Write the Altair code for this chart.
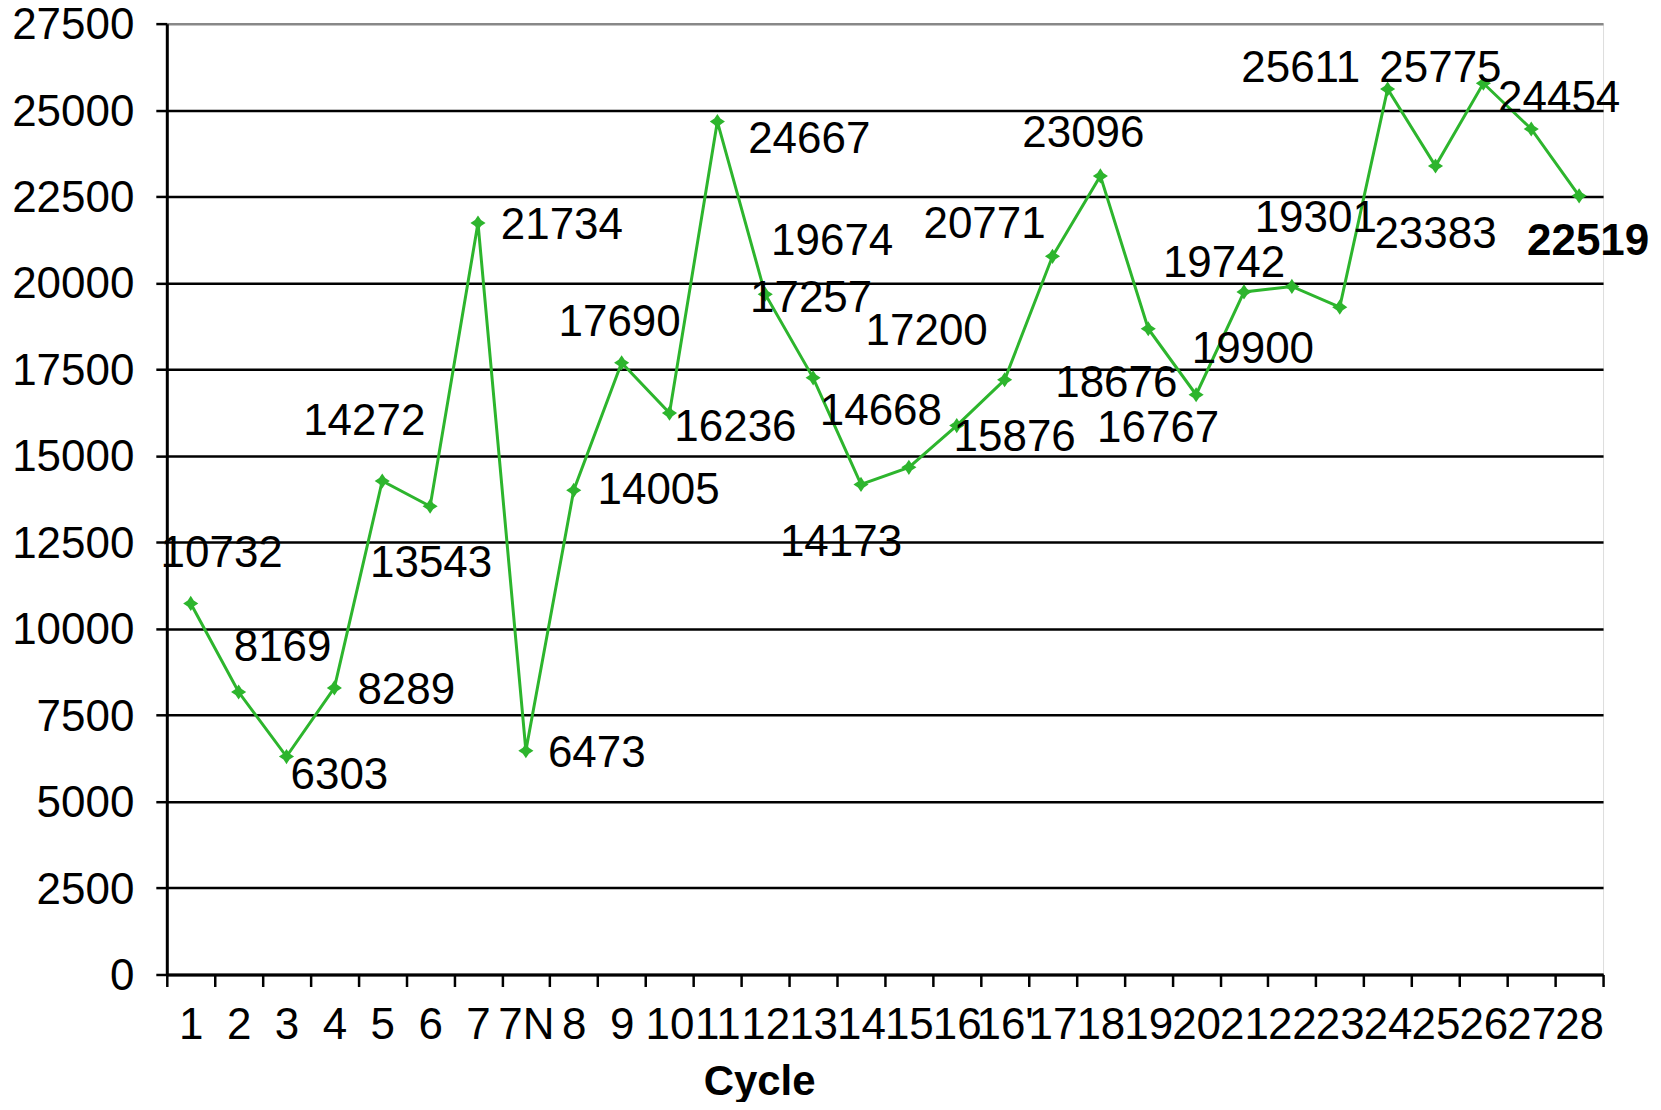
import altair as alt
import pandas as pd

cycles = ["1", "2", "3", "4", "5", "6", "7", "7N", "8", "9", "10", "11", "12", "13", "14",
          "15", "16", "16'", "17", "18", "19", "20", "21", "22", "23", "24", "25", "26", "27", "28"]
values = [10732, 8169, 6303, 8289, 14272, 13543, 21734, 6473, 14005, 17690, 16236, 24667,
          19674, 17257, 14173, 14668, 15876, 17200, 20771, 23096, 18676, 16767, 19742, 19900,
          19301, 25611, 23383, 25775, 24454, 22519]
bold_label = ["28"]
y_ticks = list(range(0, 27501, 2500))

# label placement offsets (pixels) relative to each point
label_dx = [31, 44, 53, 72, -18, 1, 84, 71, 85, -2, 66, 92, 67, -2, -20, -28, 58, -78, -68,
            -17, -32, -38, -20, -39, -24, -87, 0, -43, 28, 9]
label_dy = [-51, -46, 17, 1, -61, 56, 1, 1, -1, -42, 13, 16, -54, -81, 57, -57, 10, -50, -33,
            -44, 53, 32, -30, 62, -90, -22, 67, -16, -32, 44]

W = 1438
H = 952
Y_MAX = 27500
BAND = W / len(cycles)
TEXT_SHIFT = 2

df = pd.DataFrame({
    "cycle": cycles,
    "value": values,
    "dx": label_dx,
    "dy": label_dy,
    "idx": list(range(len(cycles))),
    "bold": [c in bold_label for c in cycles],
})

FONT = "Liberation Sans"
FS = 44
GREEN = "#2DB52D"

x_axis = alt.Axis(
    tickBand="extent",
    labelAngle=0,
    labelOverlap=False,
    labelBound=False,
    labelFlush=False,
    labelFont=FONT,
    labelFontSize=FS,
    labelColor="black",
    labelPadding=17,
    tickSize=12,
    tickWidth=2.5,
    tickColor="black",
    domainColor="black",
    domainWidth=3,
    title="Cycle",
    titleFont=FONT,
    titleFontSize=42,
    titleFontWeight="bold",
    titleColor="black",
    titleX=593,
    titleY=120,
    titleAlign="center",
    titleBaseline="alphabetic",
)

x_enc = alt.X(
    "cycle:N",
    sort=cycles,
    scale=alt.Scale(paddingInner=0, paddingOuter=0),
    axis=x_axis,
)

y_scale = alt.Scale(domain=[0, Y_MAX], nice=False, zero=True)

y_enc = alt.Y(
    "value:Q",
    scale=y_scale,
    axis=alt.Axis(
        values=y_ticks,
        format="d",
        labelFont=FONT,
        labelFontSize=FS,
        labelColor="black",
        labelPadding=22,
        labelOffset=2,
        tickSize=11,
        tickWidth=2.5,
        tickColor="black",
        domainColor="black",
        domainWidth=3,
        grid=True,
        gridColor={"expr": "datum.value == 27500 ? '#888888' : 'black'"},
        gridWidth=2.5,
        title=None,
    ),
)

base = alt.Chart(df)

line = base.mark_line(color=GREEN, strokeWidth=3).encode(
    x=x_enc, y=y_enc, order=alt.Order("idx:Q")
)

star = "M0,-1L0.4,-0.4L1,0L0.4,0.4L0,1L-0.4,0.4L-1,0L-0.4,-0.4Z"
points = base.mark_point(shape=star, filled=True, color=GREEN, size=230, opacity=1).encode(
    x=x_enc, y=y_enc
)


def label_layer(bold):
    return base.transform_filter(
        "datum.bold" if bold else "!datum.bold"
    ).transform_calculate(
        xoff=f"datum.dx + {BAND / 2}",
        ylab=f"datum.value - (datum.dy + {TEXT_SHIFT}) * {Y_MAX} / {H}",
    ).mark_text(
        font=FONT, fontSize=FS, fontWeight="bold" if bold else "normal",
        color="black", align="center", baseline="middle"
    ).encode(
        x=x_enc,
        y=alt.Y("ylab:Q", scale=y_scale),
        xOffset=alt.XOffset("xoff:Q", scale=None),
        text=alt.Text("value:Q", format="d"),
    )


chart = alt.layer(line, points, label_layer(False), label_layer(True)).properties(
    width=W,
    height=H,
    autosize=alt.AutoSizeParams(type="none"),
    padding={"left": 159, "top": 15, "right": 50, "bottom": 127},
).configure_view(
    fill="#CCFFFF", stroke="#888888", strokeWidth=2.5
).configure(background="white")

chart.save("out.html", embed_options={"renderer": "svg", "actions": False})
